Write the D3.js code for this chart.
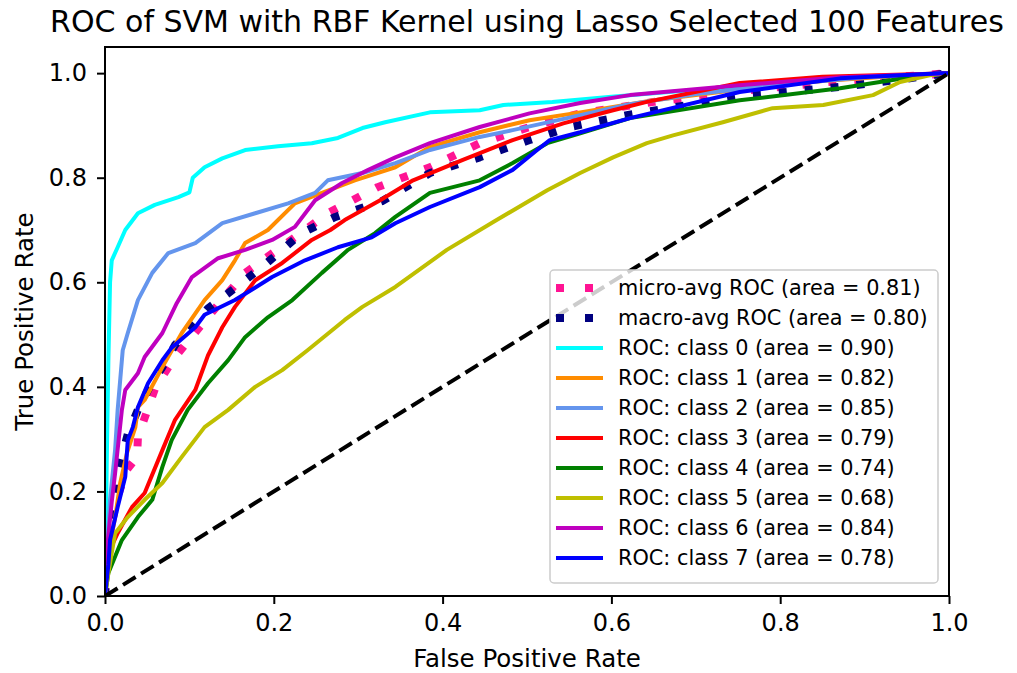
<!DOCTYPE html>
<html>
<head>
<meta charset="utf-8">
<script src="https://cdn.jsdelivr.net/npm/d3@7/dist/d3.min.js"></script>
<style>
  body { margin: 0; background: #fff; }
  text { font-family: "DejaVu Sans", sans-serif; fill: #000; }
</style>
</head>
<body>
<svg id="chart" width="1017" height="673"></svg>
<script>
// ---- data ----
const chartTitle = "ROC of SVM with RBF Kernel using Lasso Selected 100 Features";
const xLabel = "False Positive Rate";
const yLabel = "True Positive Rate";
const xTicks = [0.0, 0.2, 0.4, 0.6, 0.8, 1.0];
const yTicks = [0.0, 0.2, 0.4, 0.6, 0.8, 1.0];

// [false positive rate, true positive rate] points of each curve
const microAvg = [[0,0],[0.005,0.12],[0.015,0.19],[0.025,0.24],[0.038,0.266],[0.039,0.304],[0.06,0.40],[0.083,0.457],[0.12,0.53],[0.166,0.618],[0.225,0.686],[0.264,0.732],[0.323,0.782],[0.385,0.82],[0.444,0.866],[0.503,0.897],[0.563,0.923],[0.65,0.945],[0.75,0.965],[0.85,0.982],[1,1]];
const macroAvg = [[0,0],[0.003,0.1],[0.008,0.17],[0.012,0.216],[0.027,0.31],[0.039,0.356],[0.053,0.40],[0.068,0.438],[0.083,0.48],[0.122,0.55],[0.146,0.579],[0.186,0.629],[0.233,0.694],[0.273,0.725],[0.328,0.755],[0.385,0.809],[0.444,0.839],[0.503,0.872],[0.551,0.897],[0.62,0.92],[0.75,0.955],[0.88,0.975],[1,1]];
const class0 = [[0,0],[0.002,0.25],[0.004,0.45],[0.006,0.6],[0.008,0.642],[0.015,0.667],[0.024,0.70],[0.039,0.732],[0.059,0.748],[0.087,0.763],[0.10,0.772],[0.104,0.80],[0.118,0.82],[0.139,0.837],[0.166,0.853],[0.205,0.86],[0.245,0.866],[0.276,0.876],[0.305,0.895],[0.332,0.906],[0.385,0.925],[0.444,0.929],[0.472,0.939],[0.53,0.945],[0.6,0.955],[0.7,0.968],[0.8,0.98],[0.9,0.992],[1,1]];
const class1 = [[0,0],[0.004,0.082],[0.012,0.15],[0.018,0.216],[0.026,0.273],[0.036,0.323],[0.039,0.361],[0.047,0.375],[0.068,0.438],[0.091,0.503],[0.118,0.566],[0.139,0.604],[0.154,0.642],[0.166,0.675],[0.193,0.70],[0.225,0.751],[0.257,0.771],[0.296,0.795],[0.344,0.82],[0.385,0.859],[0.444,0.887],[0.503,0.91],[0.563,0.925],[0.65,0.948],[0.75,0.968],[0.85,0.985],[0.95,0.996],[1,1]];
const class2 = [[0,0],[0.003,0.1],[0.006,0.184],[0.012,0.28],[0.015,0.356],[0.021,0.47],[0.027,0.503],[0.039,0.566],[0.056,0.618],[0.075,0.656],[0.107,0.675],[0.139,0.713],[0.178,0.732],[0.217,0.751],[0.249,0.771],[0.264,0.795],[0.305,0.809],[0.344,0.828],[0.385,0.853],[0.444,0.878],[0.483,0.891],[0.55,0.915],[0.62,0.94],[0.7,0.96],[0.8,0.978],[0.9,0.992],[1,1]];
const class3 = [[0,0],[0.002,0.05],[0.004,0.082],[0.015,0.12],[0.032,0.17],[0.047,0.197],[0.068,0.279],[0.083,0.337],[0.107,0.394],[0.122,0.46],[0.139,0.514],[0.154,0.553],[0.178,0.604],[0.21,0.637],[0.245,0.681],[0.267,0.70],[0.284,0.719],[0.326,0.757],[0.365,0.795],[0.424,0.834],[0.483,0.872],[0.543,0.904],[0.602,0.929],[0.642,0.945],[0.752,0.981],[0.85,0.993],[1,1]];
const class4 = [[0,0],[0.004,0.044],[0.02,0.107],[0.039,0.151],[0.056,0.184],[0.068,0.247],[0.079,0.298],[0.098,0.356],[0.122,0.407],[0.146,0.451],[0.166,0.495],[0.193,0.533],[0.222,0.566],[0.257,0.618],[0.288,0.662],[0.32,0.694],[0.344,0.725],[0.385,0.771],[0.444,0.795],[0.483,0.828],[0.524,0.866],[0.563,0.885],[0.622,0.914],[0.752,0.948],[0.871,0.971],[0.969,0.996],[1,1]];
const class5 = [[0,0],[0.004,0.044],[0.012,0.12],[0.027,0.151],[0.047,0.184],[0.068,0.216],[0.091,0.266],[0.118,0.323],[0.146,0.356],[0.178,0.40],[0.21,0.432],[0.24,0.47],[0.284,0.528],[0.305,0.553],[0.344,0.591],[0.405,0.662],[0.464,0.719],[0.524,0.776],[0.563,0.809],[0.602,0.839],[0.642,0.866],[0.673,0.881],[0.732,0.906],[0.791,0.933],[0.851,0.939],[0.91,0.958],[0.942,0.983],[0.977,0.996],[1,1]];
const class6 = [[0,0],[0.003,0.1],[0.008,0.18],[0.012,0.235],[0.02,0.356],[0.024,0.394],[0.039,0.426],[0.047,0.457],[0.068,0.503],[0.085,0.56],[0.103,0.61],[0.134,0.646],[0.166,0.662],[0.198,0.681],[0.225,0.706],[0.249,0.757],[0.281,0.79],[0.312,0.815],[0.344,0.839],[0.385,0.866],[0.444,0.897],[0.503,0.923],[0.563,0.943],[0.622,0.958],[0.752,0.977],[0.871,0.992],[1,1]];
const class7 = [[0,0],[0.004,0.06],[0.006,0.107],[0.015,0.17],[0.024,0.228],[0.027,0.298],[0.033,0.323],[0.039,0.361],[0.051,0.407],[0.068,0.451],[0.079,0.475],[0.107,0.514],[0.118,0.538],[0.154,0.566],[0.198,0.61],[0.237,0.642],[0.276,0.667],[0.316,0.686],[0.344,0.713],[0.385,0.744],[0.444,0.782],[0.483,0.815],[0.512,0.853],[0.527,0.872],[0.563,0.887],[0.622,0.914],[0.752,0.964],[0.871,0.99],[0.99,1],[1,1]];
const chanceLine = [[0,0],[1,1]];

const seriesLabels = ["micro-avg ROC", "macro-avg ROC", "ROC: class 0", "ROC: class 1", "ROC: class 2", "ROC: class 3", "ROC: class 4", "ROC: class 5", "ROC: class 6", "ROC: class 7"];
const seriesAreas = [0.81, 0.80, 0.90, 0.82, 0.85, 0.79, 0.74, 0.68, 0.84, 0.78];
const seriesColors = ["#ff1493", "#000080", "#00ffff", "#ff8c00", "#6495ed", "#ff0000", "#008000", "#bfbf00", "#bf00bf", "#0000ff"];
const seriesPoints = [microAvg, macroAvg, class0, class1, class2, class3, class4, class5, class6, class7];

// ---- layout ----
const svg = d3.select("#chart");
const W = 1017, H = 673;
const m = { left: 105, top: 47, right: W - 949, bottom: H - 596 };
const pw = W - m.left - m.right, ph = H - m.top - m.bottom;

svg.append("rect").attr("width", W).attr("height", H).attr("fill", "#fff");

const x = d3.scaleLinear().domain([0, 1]).range([0, pw]);
const y = d3.scaleLinear().domain([0, 1.05]).range([ph, 0]);

const g = svg.append("g").attr("transform", `translate(${m.left},${m.top})`);

g.append("clipPath").attr("id", "plotClip")
  .append("rect").attr("width", pw).attr("height", ph);

const line = d3.line().x(d => x(d[0])).y(d => y(d[1]));
const curves = g.append("g").attr("clip-path", "url(#plotClip)");

const isDotted = i => i < 2;

seriesPoints.forEach((pts, i) => {
  curves.append("path")
    .datum(pts)
    .attr("d", line)
    .attr("fill", "none")
    .attr("stroke", seriesColors[i])
    .attr("stroke-width", isDotted(i) ? 8 : 4)
    .attr("stroke-dasharray", isDotted(i) ? "8,18" : null)
    .attr("stroke-linejoin", "round")
    .attr("stroke-linecap", isDotted(i) ? "butt" : "square");
});

// chance diagonal
curves.append("path")
  .datum(chanceLine)
  .attr("d", line)
  .attr("fill", "none")
  .attr("stroke", "#000")
  .attr("stroke-width", 4)
  .attr("stroke-dasharray", "14.8,6.4");

// ---- axes ----
const fmt = d3.format(".1f");
const xAxis = g.append("g").attr("transform", `translate(0,${ph})`)
  .call(d3.axisBottom(x).tickValues(xTicks).tickFormat(fmt).tickSize(8).tickPadding(10));
const yAxis = g.append("g")
  .call(d3.axisLeft(y).tickValues(yTicks).tickFormat(fmt).tickSize(8).tickPadding(10));
[xAxis, yAxis].forEach(a => {
  a.select(".domain").remove();
  a.selectAll(".tick line").attr("stroke", "#000").attr("stroke-width", 2);
  a.selectAll(".tick text").attr("font-size", 24).attr("font-family", "DejaVu Sans").attr("fill", "#000");
});

// frame
g.append("rect").attr("width", pw).attr("height", ph)
  .attr("fill", "none").attr("stroke", "#000").attr("stroke-width", 2);

// ---- text ----
svg.append("text").attr("x", m.left + pw / 2).attr("y", 32)
  .attr("text-anchor", "middle").attr("font-size", 30).text(chartTitle);
svg.append("text").attr("x", m.left + pw / 2).attr("y", 667)
  .attr("text-anchor", "middle").attr("font-size", 24.5).text(xLabel);
svg.append("text").attr("transform", `translate(33,${m.top + ph / 2}) rotate(-90)`)
  .attr("text-anchor", "middle").attr("font-size", 24.5).text(yLabel);

// ---- legend ----
const lg = svg.append("g");
lg.append("rect").attr("x", 550).attr("y", 270).attr("width", 388).attr("height", 313)
  .attr("rx", 4).attr("fill", "#fff").attr("fill-opacity", 0.8)
  .attr("stroke", "#cccccc").attr("stroke-width", 1.5);
seriesLabels.forEach((lab, i) => {
  const cy = 288 + i * 30;
  lg.append("line").attr("x1", 556).attr("x2", 603).attr("y1", cy).attr("y2", cy)
    .attr("stroke", seriesColors[i])
    .attr("stroke-width", isDotted(i) ? 8 : 4)
    .attr("stroke-dasharray", isDotted(i) ? "8,21" : null);
  lg.append("text").attr("x", 618).attr("y", cy).attr("dy", "0.36em")
    .attr("font-size", 20.8)
    .text(`${lab} (area = ${seriesAreas[i].toFixed(2)})`);
});
</script>
</body>
</html>
